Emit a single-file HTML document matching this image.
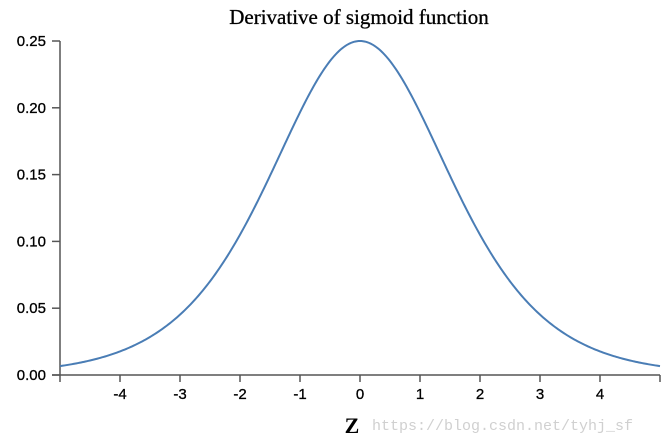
<!DOCTYPE html>
<html><head><meta charset="utf-8"><style>
body{margin:0;background:#fff;width:671px;height:442px;overflow:hidden}
text{font-family:"Liberation Sans",sans-serif;font-size:15px;fill:#000}
</style></head><body>
<svg id="s" width="671" height="442" xmlns="http://www.w3.org/2000/svg">
<text x="359" y="24" text-anchor="middle" style="font-family:'Liberation Serif',serif;font-size:21px;stroke:#000;stroke-width:0.3">Derivative of sigmoid function</text>
<g stroke="#555" stroke-width="1.5" fill="none">
<line x1="60" y1="41" x2="60" y2="375"/>
<line x1="52" y1="375" x2="660" y2="375"/>
</g>
<g id="t"></g>
<path id="c" fill="none" stroke="#4a7db5" stroke-width="2"/>
<text x="352" y="433" text-anchor="middle" style="font-family:'Liberation Serif',serif;font-size:22px;font-weight:bold">Z</text>
<text x="372" y="430" style="font-family:'Liberation Mono',monospace;font-size:15px;fill:#d0d0d0">https://blog.csdn.net/tyhj_sf</text>
</svg>
<script>
var g=document.getElementById('t'),h='';
for(var i=-5;i<=5;i++){var x=360+60*i;h+='<line x1="'+x+'" y1="375" x2="'+x+'" y2="382" stroke="#555" stroke-width="1.5"/>';if(i>-5&&i<5)h+='<text x="'+x+'" y="399" text-anchor="middle" style="stroke:#000;stroke-width:0.3">'+i+'</text>';}
for(var j=0;j<=5;j++){var v=j*0.05,y=375-v*1336;h+='<line x1="52" y1="'+y+'" x2="60" y2="'+y+'" stroke="#555" stroke-width="1.5"/>';h+='<text x="46" y="'+(y+5)+'" text-anchor="end" style="stroke:#000;stroke-width:0.3">'+v.toFixed(2)+'</text>';}
g.innerHTML=h;
var d='';for(var k=0;k<=400;k++){var z=-5+k*0.025,s=1/(1+Math.exp(-z)),v=s*(1-s);d+=(k?'L':'M')+(360+60*z).toFixed(2)+' '+(375-v*1336).toFixed(2);}
document.getElementById('c').setAttribute('d',d);
</script>
</body></html>
